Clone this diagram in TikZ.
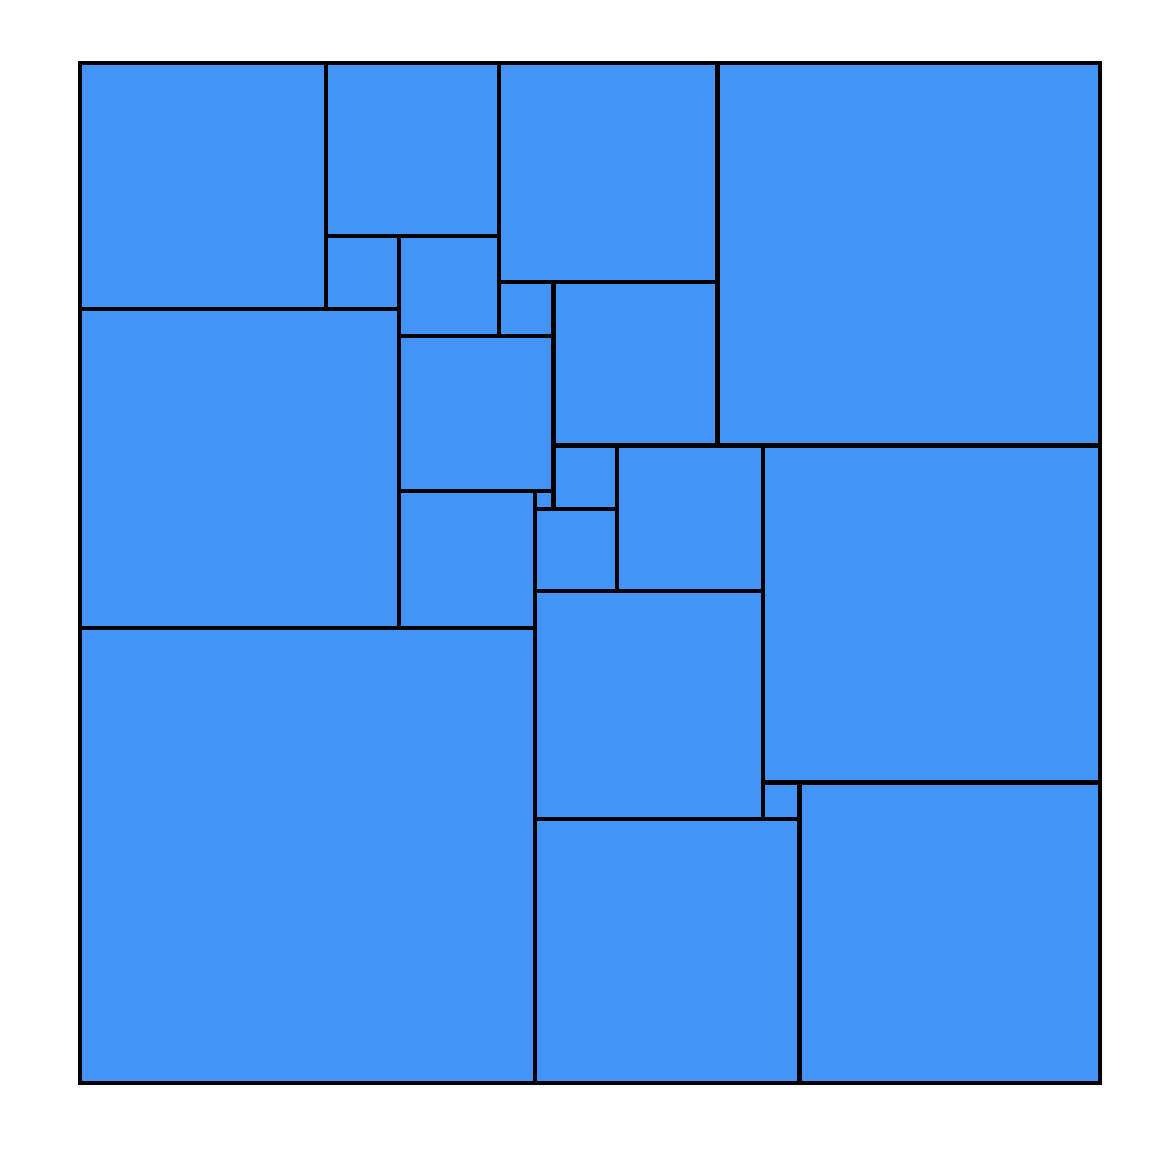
\documentclass[tikz,border=0pt]{standalone}
\usepackage{xcolor}
\usepackage{tikz}
\definecolor{tileblue}{RGB}{67,148,247}

\begin{document}
\begin{tikzpicture}[
  x=0.1cm,y=0.1cm,
  tile/.style={draw=black,fill=tileblue,line width=1.3pt,line join=miter}
]
\useasboundingbox (-8.78,-7.69) rectangle (120.13,118.92);
% squares as left/top/side, counted from the top left corner
\foreach \l/\t/\s in {0/0/27, 27/0/19, 46/0/24, 70/0/42,
                      27/19/8, 35/19/11, 46/24/6, 52/24/18,
                      0/27/35, 35/30/17, 35/47/15, 50/47/2,
                      52/42/7, 59/42/16, 75/42/37, 50/49/9,
                      0/62/50, 50/58/25, 75/79/4, 79/79/33,
                      50/83/29}
  \draw[tile] (\l,112-\t) rectangle ++(\s,-\s);
\draw[line width=1.4pt] (0,0) rectangle (112,112);
\end{tikzpicture}
\end{document}
